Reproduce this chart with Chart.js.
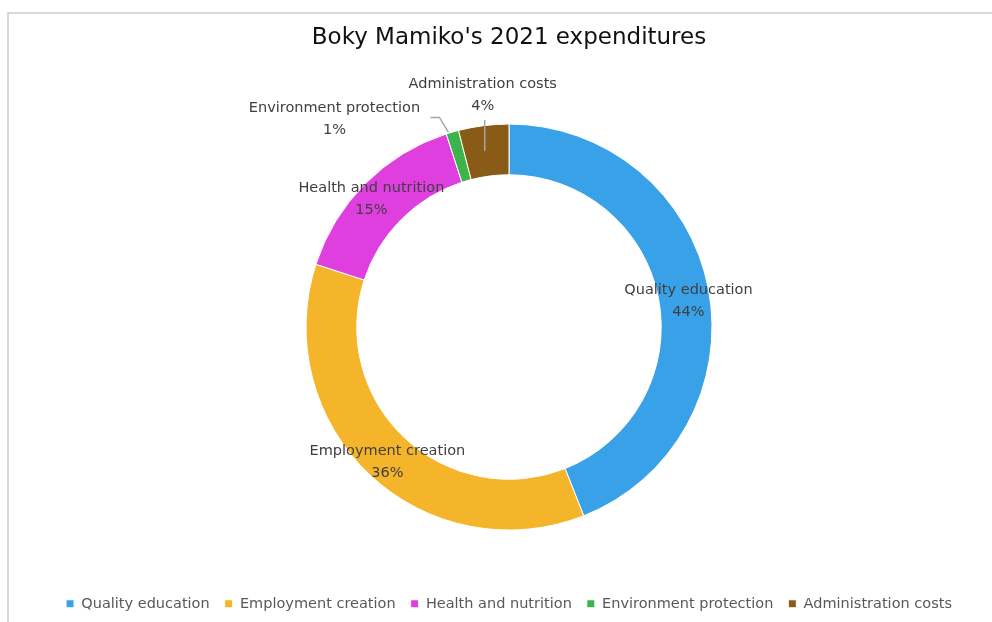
<!DOCTYPE html>
<html>
<head>
<meta charset="utf-8">
<script src="https://cdn.jsdelivr.net/npm/chart.js@4.4.0/dist/chart.umd.min.js"></script>
<style>
html, body { margin: 0; padding: 0; background: #fff; }
#frame { position: absolute; left: 7px; top: 12px; width: 985px; height: 610px; border-left: 2px solid #d9d9d9; border-top: 2px solid #d9d9d9; }
#wrap { position: absolute; left: 0; top: 0; width: 992px; height: 622px; }
</style>
</head>
<body>
<div id="frame"></div>
<div id="wrap"><canvas id="doughnutChart" width="992" height="622"></canvas></div>
<script>
// datos del grafico
var categorias = ["Quality education", "Employment creation", "Health and nutrition", "Environment protection", "Administration costs"];
var valores = [44, 36, 15, 1, 4];
var colores = ["#38a1e8", "#f5b52a", "#e03fe0", "#3cb44b", "#8a5b17"];

// desplazamiento de cada etiqueta respecto al centro del sector
var desplazamientos = [[5, 7], [0, 6], [-12, -2], [-125, -37], [-4, -56]];

var etiquetas = {
    id: 'etiquetas',
    afterDatasetsDraw: function (chart) {
        var ctx = chart.ctx;
        var meta = chart.getDatasetMeta(0);
        var total = valores.reduce(function (a, b) { return a + b; }, 0);
        ctx.save();
        ctx.font = '14.5px "DejaVu Sans"';
        ctx.textAlign = 'center';
        ctx.textBaseline = 'middle';
        meta.data.forEach(function (arc, i) {
            var p = arc.tooltipPosition();
            var x = p.x + desplazamientos[i][0];
            var y = p.y + desplazamientos[i][1];

            // lineas guia para las etiquetas movidas
            ctx.strokeStyle = '#a6a6a6';
            ctx.lineWidth = 1.5;
            if (i == 3) {
                var a = (arc.startAngle + arc.endAngle) / 2;
                ctx.beginPath();
                ctx.moveTo(x + 96, y - 2);
                ctx.lineTo(x + 105, y - 2);
                ctx.lineTo(arc.x + Math.cos(a) * arc.outerRadius - 4, arc.y + Math.sin(a) * arc.outerRadius);
                ctx.stroke();
            }
            if (i == 4) {
                ctx.beginPath();
                ctx.moveTo(p.x - 2, y + 25);
                ctx.lineTo(p.x - 2, p.y);
                ctx.stroke();
            }

            ctx.fillStyle = '#404040';
            ctx.fillText(categorias[i], x, y - 11);
            ctx.fillText(Math.round(valores[i] / total * 100) + '%', x, y + 11);
        });
        ctx.restore();
    }
};

var doughnutData = {
    labels: categorias,
    datasets: [{
        data: valores,
        backgroundColor: colores,
        borderColor: "#ffffff",
        borderWidth: 1,
        hoverOffset: 0,
        radius: 203,
        cutout: '75%'
    }]
};

var doughnutOptions = {
    responsive: false,
    animation: false,
    layout: { padding: { left: 26, right: 0, top: 0, bottom: 1 } },
    plugins: {
        title: {
            display: true,
            text: "Boky Mamiko's 2021 expenditures",
            color: '#111111',
            font: { family: 'DejaVu Sans', size: 23, weight: 'normal' },
            padding: { top: 24, bottom: 21 }
        },
        legend: {
            position: 'bottom',
            labels: {
                boxWidth: 8,
                boxHeight: 8,
                padding: 15,
                color: '#595959',
                font: { family: 'DejaVu Sans', size: 14.5 }
            }
        },
        tooltip: { enabled: false }
    }
};

var ctx4 = document.getElementById("doughnutChart").getContext("2d");
new Chart(ctx4, { type: 'doughnut', data: doughnutData, options: doughnutOptions, plugins: [etiquetas] });
</script>
</body>
</html>
